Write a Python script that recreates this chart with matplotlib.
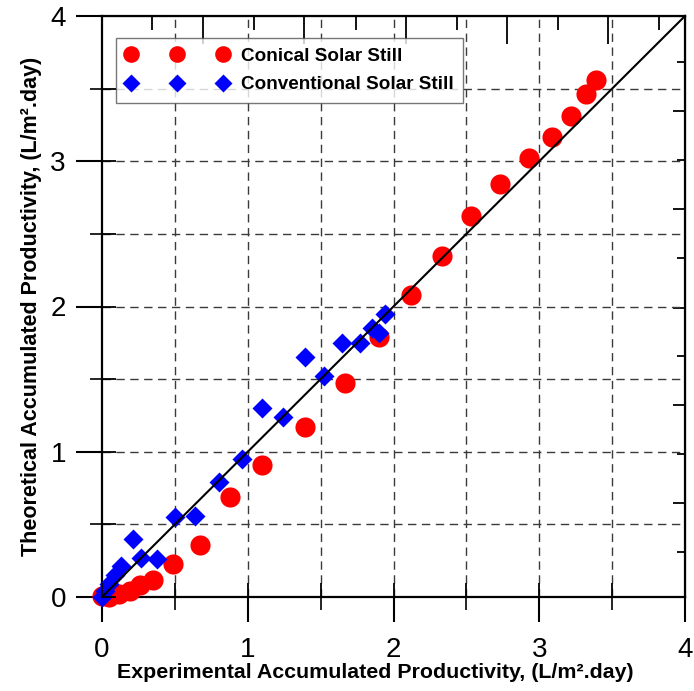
import matplotlib
matplotlib.use("Agg")
import matplotlib.pyplot as plt
import numpy as np
from matplotlib.lines import Line2D
from matplotlib.legend_handler import HandlerLine2D

plt.rcParams['font.family'] = ['Liberation Sans', 'DejaVu Sans']

# Conical solar still (red circles)
con_x = [0.00, 0.05, 0.12, 0.19, 0.26, 0.35, 0.49, 0.67, 0.88, 1.10, 1.39, 1.67, 1.90,
         2.12, 2.33, 2.53, 2.73, 2.93, 3.09, 3.22, 3.32, 3.39]
con_y = [0.01, 0.00, 0.02, 0.04, 0.08, 0.12, 0.23, 0.36, 0.69, 0.91, 1.17, 1.47, 1.79,
         2.08, 2.35, 2.62, 2.84, 3.02, 3.17, 3.31, 3.46, 3.56]

# Conventional solar still (blue diamonds)
conv_x = [0.00, 0.02, 0.05, 0.09, 0.13, 0.21, 0.27, 0.38, 0.50, 0.64, 0.80, 0.96, 1.10,
          1.24, 1.39, 1.52, 1.65, 1.77, 1.85, 1.90, 1.94]
conv_y = [0.00, 0.04, 0.09, 0.15, 0.21, 0.40, 0.27, 0.26, 0.55, 0.56, 0.79, 0.95, 1.30,
          1.24, 1.65, 1.52, 1.75, 1.75, 1.85, 1.82, 1.95]

line_x = [0, 4]
line_y = [0, 4]

x_ticks = [0, 1, 2, 3, 4]
y_ticks = [0, 1, 2, 3, 4]

fig = plt.figure(figsize=(6.94, 6.91), dpi=100)
pos = [102/694, 1 - 597/691, (685-102)/694, (597-16)/691]
ax = fig.add_axes(pos)

ax.set_xlim(0, 4)
ax.set_ylim(0, 4)

# grid
for v in np.arange(0.5, 4.0, 0.5):
    ax.axvline(v, color='#3a3a3a', lw=1.0, ls=(0, (6, 4)), zorder=1)
    ax.axhline(v, color='#3a3a3a', lw=1.0, ls=(0, (6, 4)), zorder=1)

ax.plot(line_x, line_y, color='black', lw=1.5, zorder=5, clip_on=False)
ax.plot(con_x, con_y, 'o', color='#ff0000', ms=14.5, mec='none', zorder=3,
        label='Conical Solar Still', clip_on=False)
ax.plot(conv_x, conv_y, 'D', color='#0000ff', ms=10.5, mec='none', zorder=4,
        label='Conventional Solar Still', clip_on=False)

for s in ax.spines.values():
    s.set_linewidth(1.6)

ax.set_xticks(x_ticks)
ax.set_yticks(y_ticks)
ax.set_xticks(np.arange(0.5, 4, 1.0), minor=True)
ax.set_yticks(np.arange(0.5, 4, 1.0), minor=True)
ax.tick_params(which='major', direction='out', length=18, width=1.5, labelsize=20,
               top=False, right=False)
ax.tick_params(axis='y', which='major', length=19, pad=7)
ax.tick_params(axis='x', which='major', pad=11)
ax.tick_params(which='minor', direction='out', length=9, width=1.2, top=False, right=False)

# inner ticks overlay
axi = fig.add_axes(pos, sharex=ax, sharey=ax, facecolor='none')
for s in axi.spines.values():
    s.set_visible(False)
axi.tick_params(which='both', direction='in', length=10, width=1.3,
                labelbottom=False, labelleft=False)
axi.set_zorder(5)

# top and right odd ticks
top_major = [0.693, 1.386, 2.086, 2.779, 3.47]
top_minor = [0.343, 1.043, 1.743, 2.436, 3.129, 3.82]
sx = ax.secondary_xaxis('top')
sx.set_xticks(top_major)
sx.set_xticks(top_minor, minor=True)
sx.tick_params(which='major', direction='in', length=20, width=1.3, labeltop=False)
sx.tick_params(which='minor', direction='in', length=10, width=1.3)

right_major = [0.647, 1.322, 1.990, 2.671, 3.346]
right_minor = [0.310, 0.985, 1.659, 2.334, 3.009, 3.683]
sy = ax.secondary_yaxis('right')
sy.set_yticks(right_major)
sy.set_yticks(right_minor, minor=True)
sy.tick_params(which='major', direction='in', length=9, width=1.3, labelright=False)
sy.tick_params(which='minor', direction='in', length=6, width=1.3)

ax.set_xlabel('Experimental Accumulated Productivity, (L/m\u00b2.day)',
              fontsize=15.4, fontweight='bold', labelpad=0)
ax.xaxis.label.set_x((375-102)/583)
ax.set_ylabel('Theoretical Accumulated Productivity, (L/m\u00b2.day)',
              fontsize=15.5, fontweight='bold', labelpad=6)

leg = ax.legend(loc='upper left', bbox_to_anchor=((116-102)/583, (597-38)/581),
                numpoints=3, handler_map={Line2D: HandlerLine2D(numpoints=3)},
                prop={'weight': 'bold', 'size': 13.6}, frameon=True, fancybox=False,
                edgecolor='#555555', handlelength=5.47, handletextpad=0.65,
                borderaxespad=0, labelspacing=0.6, borderpad=0.5)
leg.get_frame().set_linewidth(1.0)
leg.set_zorder(10)
for h in leg.legend_handles:
    h.set_markersize(12 if h.get_marker() == 'o' else 9.3)

fig.savefig('out.png', dpi=100)
